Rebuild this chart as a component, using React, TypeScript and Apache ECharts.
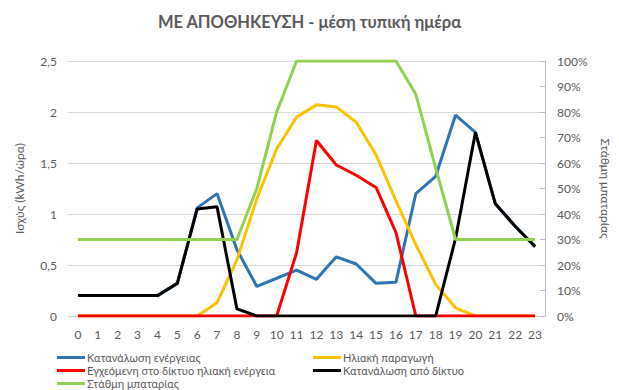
import React, { useEffect, useRef } from "react";
import * as echarts from "echarts";

const hours = ["0","1","2","3","4","5","6","7","8","9","10","11","12","13","14","15","16","17","18","19","20","21","22","23"];
const consumption = [0.2,0.2,0.2,0.2,0.2,0.32,1.06,1.2,0.65,0.29,0.37,0.45,0.36,0.58,0.51,0.32,0.33,1.2,1.37,1.97,1.8,1.1,0.88,0.68];
const solar = [0,0,0,0,0,0,0,0.13,0.55,1.15,1.64,1.95,2.07,2.05,1.9,1.58,1.13,0.7,0.31,0.08,0,0,0,0];
const injected = [0,0,0,0,0,0,0,0,0,0,0,0.62,1.72,1.48,1.38,1.26,0.82,0,0,0,0,0,0,0];
const fromGrid = [0.2,0.2,0.2,0.2,0.2,0.32,1.05,1.07,0.07,0,0,0,0,0,0,0,0,0,0,0.76,1.8,1.1,0.88,0.68];
const battery = [30,30,30,30,30,30,30,30,30,50,80,100,100,100,100,100,100,87,58,30,30,30,30,30];

const names = [
  "Κατανάλωση ενέργειας",
  "Ηλιακή παραγωγή",
  "Εγχεόμενη στο δίκτυο ηλιακή ενέργεια",
  "Κατανάλωση από δίκτυο",
  "Στάθμη μπαταρίας",
];
const colors = ["#2E75B6", "#FFC000", "#FF0000", "#000000", "#92D050"];

const FONT = "Lato, 'Open Sans', sans-serif";
const GRAY = "#595959";

export default function App() {
  const ref = useRef<HTMLDivElement>(null);
  useEffect(() => {
    if (!ref.current) return;
    const chart = echarts.init(ref.current, null, { renderer: "svg" });
    const legendPos = [
      { left: 57, top: 352 },
      { left: 313, top: 352 },
      { left: 57, top: 365 },
      { left: 313, top: 365 },
      { left: 57, top: 378 },
    ];
    const mk = (name: string, data: number[], i: number, yIndex = 0) => ({
      name,
      type: "line",
      data,
      yAxisIndex: yIndex,
      symbol: "none",
      lineStyle: { width: 3, color: colors[i] },
      itemStyle: { color: colors[i] },
      z: 2 + i,
    });
    chart.setOption({
      animation: false,
      textStyle: { fontFamily: FONT },
      title: {
        text: "ΜΕ ΑΠΟΘΗΚΕΥΣΗ - μέση τυπική ημέρα",
        left: "center",
        top: 13,
        padding: 0,
        textStyle: { fontFamily: FONT, fontSize: 16.5, fontWeight: "bold", color: GRAY },
      },
      legend: names.map((n, i) => ({
        data: [n],
        left: legendPos[i].left,
        top: legendPos[i].top,
        padding: 0,
        icon: "rect",
        itemWidth: 28,
        itemHeight: 3,
        itemGap: 2,
        textStyle: { fontFamily: FONT, fontSize: 11, color: GRAY, padding: [0, 0, 0, -3] },
      })),
      grid: { left: 68, right: 71, top: 61, bottom: 74 },
      xAxis: {
        type: "category",
        data: hours,
        boundaryGap: true,
        axisLine: { lineStyle: { color: "#d9d9d9", width: 1 } },
        axisTick: { show: false },
        axisLabel: { color: GRAY, fontSize: 12, margin: 12, fontFamily: FONT },
      },
      yAxis: [
        {
          type: "value",
          min: 0,
          max: 2.5,
          interval: 0.5,
          name: "Ισχύς (kWh/ώρα)",
          nameLocation: "middle",
          nameGap: 43,
          nameTextStyle: { color: GRAY, fontSize: 12, fontFamily: FONT },
          axisLine: { show: false },
          axisTick: { show: false },
          splitLine: { lineStyle: { color: "#d9d9d9", width: 1 } },
          axisLabel: {
            color: GRAY,
            fontSize: 12,
            margin: 11,
            fontFamily: FONT,
            formatter: (v: number) => String(v).replace(".", ","),
          },
        },
        {
          type: "value",
          min: 0,
          max: 100,
          interval: 10,
          position: "right",
          name: "Στάθμη μπαταρίας",
          nameLocation: "middle",
          nameGap: 54,
          nameRotate: -90,
          nameTextStyle: { color: GRAY, fontSize: 12, fontFamily: FONT },
          axisLine: { show: true, lineStyle: { color: "#bfbfbf", width: 1 } },
          axisTick: { show: true, inside: true, length: 5, lineStyle: { color: "#bfbfbf" } },
          splitLine: { show: false },
          axisLabel: { color: GRAY, fontSize: 12, margin: 12, fontFamily: FONT, formatter: "{value}%" },
        },
      ],
      series: [
        mk(names[0], consumption, 0),
        mk(names[1], solar, 1),
        mk(names[2], injected, 2),
        mk(names[3], fromGrid, 3),
        mk(names[4], battery, 4, 1),
      ],
    });
    return () => chart.dispose();
  }, []);
  return (
    <div
      ref={ref}
      style={{ position: "fixed", top: 0, left: 0, width: 619, height: 390, background: "#fff" }}
    />
  );
}
